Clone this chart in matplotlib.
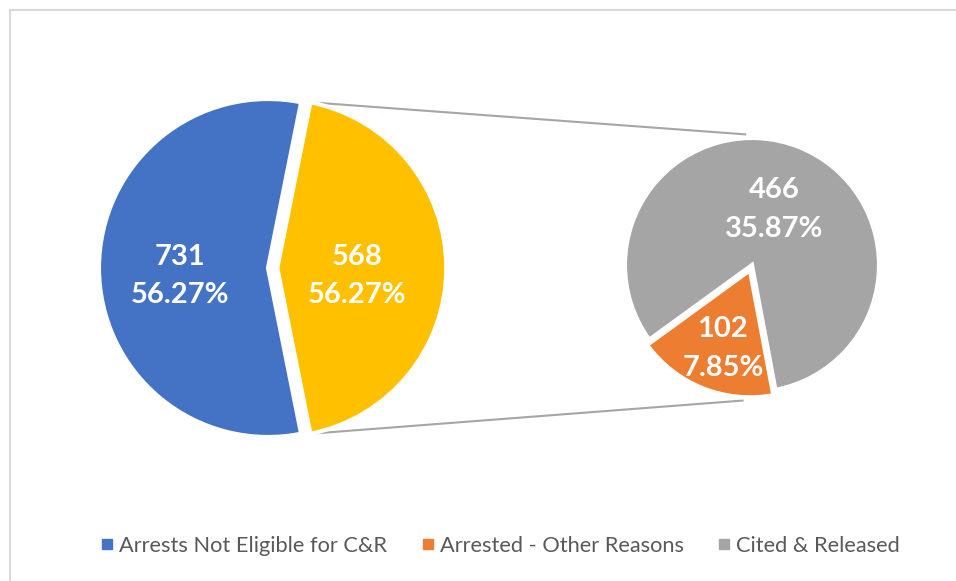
import numpy as np
import matplotlib.pyplot as plt
from matplotlib.lines import Line2D
from matplotlib.patches import Rectangle

# data
main_names = ["Arrests Not Eligible for C&R", "Split"]
main_values = [731, 568]
main_pct_labels = ["56.27%", "56.27%"]
sub_names = ["Arrested - Other Reasons", "Cited & Released"]
sub_values = [102, 466]
sub_pct_labels = ["7.85%", "35.87%"]

blue, yellow, orange, grey = "#4472C4", "#FFC000", "#ED7D31", "#A5A5A5"

plt.rcParams['font.family'] = ['Lato', 'DejaVu Sans']

W, H = 956, 581
fig = plt.figure(figsize=(W / 100, H / 100), dpi=100)
ax = fig.add_axes([0, 0, 1, 1])

# left pie: split part centred on the right side
# (explode is in data units here, so scale by the radius)
c1, r1 = (268, H - 268), 169
start1 = main_values[1] / sum(main_values) * 180
w1, _ = ax.pie(main_values, colors=[blue, yellow], startangle=start1,
               explode=[0, 0.055 * r1], center=c1, radius=r1, frame=True,
               wedgeprops=dict(edgecolor="white", linewidth=3))

# right pie
c2, r2 = (752, H - 265), 127
start2 = 216
w2, _ = ax.pie(sub_values, colors=[orange, grey], startangle=start2,
               explode=[0.045 * r2, 0], center=c2, radius=r2, frame=True,
               wedgeprops=dict(edgecolor="white", linewidth=3))


def put_label(w, dist, txt, dy=0, dx=0):
    mid = np.radians((w.theta1 + w.theta2) / 2)
    x = w.center[0] + dist * w.r * np.cos(mid) + dx
    y = w.center[1] + dist * w.r * np.sin(mid) + dy
    ax.text(x, y, txt, color="white", fontsize=21, fontweight="bold",
            ha="center", va="center", linespacing=1.6)


put_label(w1[0], 0.52, f"{main_values[0]}\n{main_pct_labels[0]}", dy=-8)
put_label(w1[1], 0.47, f"{main_values[1]}\n{main_pct_labels[1]}", dy=-8)
put_label(w2[0], 0.66, f"{sub_values[0]}\n{sub_pct_labels[0]}", dx=4)
put_label(w2[1], 0.47, f"{sub_values[1]}\n{sub_pct_labels[1]}")

# connector lines from split wedge to the second pie
ws = w1[1]
for ang1, ang2, k in [(ws.theta2, 93, 1.03), (ws.theta1, 266, 1.07)]:
    a1, a2 = np.radians(ang1), np.radians(ang2)
    p1 = (ws.center[0] + r1 * np.cos(a1), ws.center[1] + r1 * np.sin(a1))
    p2 = (c2[0] + r2 * k * np.cos(a2), c2[1] + r2 * k * np.sin(a2))
    ax.plot([p1[0], p2[0]], [p1[1], p2[1]], color="#A6A6A6", lw=1.5, zorder=0)

ax.set_xlim(0, W)
ax.set_ylim(0, H)
ax.set_aspect("equal")
ax.axis("off")

# chart border
fig.patches.append(Rectangle((10 / W, -0.05), 1.1, (H - 10) / H + 0.05,
                             transform=fig.transFigure, fill=False,
                             edgecolor="#D9D9D9", lw=1.5))

handles = [Line2D([], [], marker="s", ls="", color=c, markersize=6.5)
           for c in [blue, orange, grey]]
fig.legend(handles, [main_names[0]] + sub_names, loc="center",
           bbox_to_anchor=(498 / W, 1 - 546 / H), ncol=3, frameon=False,
           fontsize=15.7, labelcolor="#595959", handletextpad=0.05,
           columnspacing=1.35, handlelength=1.0)

fig.savefig("out.png", dpi=100)
